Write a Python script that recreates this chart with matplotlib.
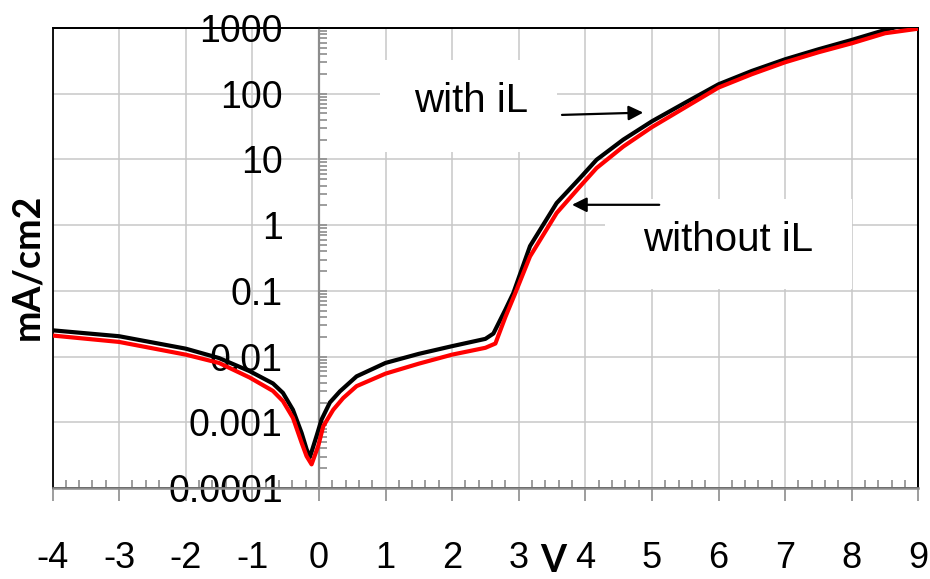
import matplotlib
matplotlib.use("Agg")
import matplotlib.pyplot as plt
from matplotlib import font_manager
from matplotlib.patches import Rectangle
from matplotlib.ticker import FixedLocator, FixedFormatter, LogLocator, NullFormatter

# ---------------- data ----------------
x_with = [-4.0, -3.0, -2.0, -1.5, -1.04, -0.69, -0.54, -0.39, -0.26, -0.185, -0.135,
          -0.035, 0.04, 0.165, 0.315, 0.566, 1.0, 1.5, 2.0, 2.5, 2.62, 2.8, 2.92,
          3.17, 3.57, 3.92, 4.17, 4.57, 5.0, 5.5, 6.0, 6.5, 7.0, 7.5, 8.0, 8.5, 9.0]
j_with = [0.0251, 0.0204, 0.0132, 0.0095, 0.0060, 0.0039, 0.0028, 0.00155, 0.00069,
          0.00039, 0.000295, 0.00062, 0.0011, 0.0020, 0.00295, 0.0050, 0.0080, 0.011,
          0.0144, 0.0186, 0.0224, 0.0518, 0.093, 0.48, 2.17, 5.2, 9.9, 20.0, 38.0,
          73.0, 139.0, 222.0, 334.0, 474.0, 658.0, 933.0, 1260.0]

x_without = [-4.0, -3.0, -2.0, -1.5, -1.04, -0.69, -0.54, -0.39, -0.26, -0.185, -0.11,
             -0.01, 0.065, 0.215, 0.365, 0.566, 1.0, 1.5, 2.0, 2.5, 2.65, 2.8, 2.95,
             3.17, 3.57, 3.92, 4.17, 4.57, 5.0, 5.5, 6.0, 6.5, 7.0, 7.5, 8.0, 8.5, 9.0]
j_without = [0.0209, 0.0167, 0.0107, 0.0080, 0.0048, 0.0030, 0.0021, 0.00117, 0.00049,
             0.000305, 0.000229, 0.000437, 0.00087, 0.00155, 0.00234, 0.00355, 0.0055,
             0.0078, 0.0107, 0.0136, 0.0158, 0.040, 0.093, 0.334, 1.53, 3.87, 7.4, 15.7,
             31.0, 62.0, 124.0, 198.0, 301.0, 427.0, 585.0, 832.0, 977.0]

x_ticks = [-4, -3, -2, -1, 0, 1, 2, 3, 4, 5, 6, 7, 8, 9]
x_tick_labels = ["-4", "-3", "-2", "-1", "0", "1", "2", "3", "4", "5", "6", "7", "8", "9"]
y_ticks = [1e-4, 1e-3, 1e-2, 1e-1, 1, 10, 100, 1000]
y_tick_labels = ["0.0001", "0.001", "0.01", "0.1", "1", "10", "100", "1000"]

# ---------------- fonts ----------------
names = {f.name for f in font_manager.fontManager.ttflist}
tick_font = "Liberation Sans Narrow" if "Liberation Sans Narrow" in names else "Liberation Sans"
label_font = "Lato" if "Lato" in names else "DejaVu Sans"

fig = plt.figure(figsize=(9.3, 5.79), dpi=100)
W, H = 930, 579
ax = fig.add_axes([52.5 / W, 1 - 488 / H, (918.3 - 52.5) / W, (488 - 28) / H])

ax.set_yscale("log")
ax.set_xlim(-4, 9)
ax.set_ylim(1e-4, 1e3)

grid_c = "#c8c8c8"
axis_c = "#8c8c8c"

# ticks / grid
ax.xaxis.set_major_locator(FixedLocator(x_ticks))
ax.xaxis.set_major_formatter(FixedFormatter(x_tick_labels))
ax.xaxis.set_minor_locator(FixedLocator([v / 5 for v in range(-20, 46) if v % 5 != 0]))
ax.yaxis.set_major_locator(FixedLocator(y_ticks))
ax.yaxis.set_major_formatter(FixedFormatter(y_tick_labels))
ax.yaxis.set_minor_locator(LogLocator(base=10, subs=range(2, 10)))
ax.yaxis.set_minor_formatter(NullFormatter())
ax.grid(True, which="major", color=grid_c, lw=1.1, zorder=0)
ax.set_axisbelow(True)

# spines
ax.spines["left"].set_position(("data", 0))
ax.spines["left"].set_color(axis_c)
ax.spines["left"].set_linewidth(1.6)
ax.spines["bottom"].set_color(axis_c)
ax.spines["bottom"].set_linewidth(1.8)
ax.spines["top"].set_color("black")
ax.spines["right"].set_color("black")
ax.spines["top"].set_linewidth(1.3)
ax.spines["right"].set_linewidth(1.3)
frame = Rectangle((0, 0), 1, 1, transform=ax.transAxes, fill=False,
                  edgecolor="black", lw=1.3, zorder=2.4, clip_on=False)
ax.add_patch(frame)

ax.tick_params(axis="y", which="both", direction="in", length=6, width=1.2,
               color=axis_c, pad=26, labelsize=27, labelfontfamily=tick_font)
ax.tick_params(axis="x", which="major", direction="out", length=9.5, width=1.2,
               color=axis_c, pad=29, labelsize=26, labelfontfamily=tick_font)
ax.tick_params(axis="x", which="minor", direction="in", length=5.8, width=1.2,
               color=axis_c)

# white text boxes (cover gridlines)
ax.add_patch(Rectangle((0.916, 13.05), 3.574 - 0.916, 326.6 - 13.05,
                       facecolor="white", edgecolor="none", zorder=1))
ax.add_patch(Rectangle((4.294, 0.108), 8.003 - 4.294, 2.52 - 0.108,
                       facecolor="white", edgecolor="none", zorder=1))

# curves
ax.plot(x_with, j_with, color="black", lw=3.0, zorder=3)
ax.plot(x_without, j_without, color="#ff0000", lw=3.0, zorder=4)

# annotations
ax.text(2.28, 53.5, "with iL", fontsize=29, family="Liberation Sans",
        ha="center", va="baseline", zorder=5)
ax.text(6.14, 0.398, "without iL", fontsize=29, family="Liberation Sans",
        ha="center", va="baseline", zorder=5)
ax.annotate("", xy=(4.87, 51.6), xytext=(3.65, 47.6),
            arrowprops=dict(arrowstyle="-|>", color="black", lw=1.6,
                            mutation_scale=22, shrinkA=0, shrinkB=0), zorder=6)
ax.annotate("", xy=(3.80, 2.04), xytext=(5.11, 2.04),
            arrowprops=dict(arrowstyle="-|>", color="black", lw=1.6,
                            mutation_scale=22, shrinkA=0, shrinkB=0), zorder=6)

# axis titles
fig.text(27 / W, 1 - 266.7 / H, "mA/cm2", rotation=90, fontsize=27,
         fontweight="bold", family=label_font, ha="center", va="center")
fig.text(553 / W, 1.5 / H, "V", fontsize=27, fontweight="bold",
         family=label_font, ha="center", va="bottom")

fig.savefig("out.png", dpi=100)
